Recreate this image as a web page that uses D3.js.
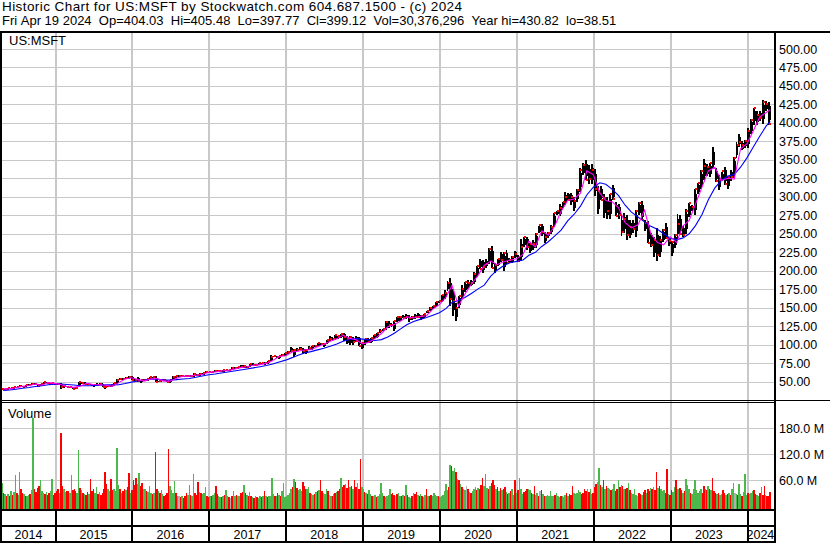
<!DOCTYPE html>
<html><head><meta charset="utf-8">
<script src="https://cdn.jsdelivr.net/npm/d3@7"></script>
<style>
html,body{margin:0;padding:0;background:#fff;}
svg{display:block;}
text{font-family:"Liberation Sans",Arial,sans-serif;fill:#000;}
</style></head><body>
<svg id="c" width="830" height="543"></svg>
<script>
// ---------------- DATA ----------------
const titleText = "Historic Chart for US:MSFT by Stockwatch.com 604.687.1500 - (c) 2024";
const infoText = "Fri Apr 19 2024  Op=404.03  Hi=405.48  Lo=397.77  Cl=399.12  Vol=30,376,296  Year hi=430.82  lo=38.51";
const symbolText = "US:MSFT";
const volumeLabel = "Volume";

// biweekly price periods, first starting 2014-04-21
const priceStart = "2014-04-21";
const priceHigh = [40.7,40.4,41.1,41.5,42.3,42.7,45.7,44.3,45.3,46.0,47.6,47.6,46.9,47.0,49.7,50.0,48.9,48.5,48.0,
47.9,47.9,43.9,44.3,42.9,42.8,42.3,49.5,48.9,48.8,47.8,46.9,45.2,47.9,47.3,47.7,44.9,44.7,44.8,47.5,54.0,54.9,54.7,56.2,56.8,56.8,
53.3,55.6,52.3,52.9,54.0,55.6,55.9,56.8,51.3,52.4,53.0,51.5,52.3,57.0,57.3,58.5,58.2,58.0,58.7,58.4,61.4,60.8,61.4,61.9,64.1,63.4,
63.4,66.0,64.9,65.2,65.2,66.2,66.0,69.1,69.6,70.0,72.9,71.7,71.5,74.3,74.4,73.6,74.9,75.6,75.9,77.9,86.2,84.9,84.0,85.1,87.5,88.4,
90.8,96.1,93.4,95.0,97.2,95.0,94.0,97.9,97.9,98.8,102.7,102.2,101.6,106.8,111.2,109.7,112.8,112.2,114.6,116.2,111.3,112.2,110.2,112.2,110.9,102.4,
107.9,108.3,108.4,113.2,116.0,120.8,121.5,131.4,131.4,129.4,131.9,137.7,138.4,139.5,141.7,139.7,138.6,140.9,142.4,140.4,141.0,145.8,150.3,152.5,157.5,159.0,
167.5,174.1,185.8,190.7,175.0,156.1,166.0,180.0,185.0,187.0,187.7,198.5,206.4,216.4,215.0,216.0,231.2,232.9,209.8,215.9,225.2,225.2,228.1,217.3,219.6,227.2,
220.6,242.6,245.9,246.1,237.9,241.0,251.2,261.0,263.2,251.7,252.9,262.3,278.0,280.7,290.2,292.9,305.8,305.3,305.3,299.8,311.1,338.8,345.1,349.7,343.0,344.3,
338.0,314.6,315.1,303.7,300.0,304.2,316.0,292.6,290.9,274.8,277.7,274.7,269.1,268.6,282.0,292.4,294.2,268.4,267.5,251.6,246.2,257.2,247.2,256.1,263.9,245.4,
239.9,250.0,276.8,274.9,260.1,283.3,292.0,289.3,311.0,319.0,335.9,351.5,344.0,345.3,366.8,338.5,330.0,333.6,340.9,327.5,336.9,354.0,374.4,384.3,375.0,376.4,
392.8,405.6,420.8,415.9,415.9,430.8,430.2,428.7];
const priceLow = [39.0,38.5,39.6,40.3,40.9,41.3,42.0,42.2,43.1,44.9,45.9,45.5,42.1,43.9,46.9,47.3,46.4,45.5,45.5,
45.0,40.2,41.8,42.4,40.8,40.2,40.1,42.0,46.2,46.7,45.9,45.2,43.3,44.5,45.6,43.1,39.7,42.5,42.6,44.5,47.0,52.2,52.8,53.7,53.4,52.1,
50.1,49.9,48.2,50.1,50.6,53.3,54.0,49.4,49.1,49.9,51.4,49.5,48.0,52.3,55.8,57.0,57.0,55.6,56.6,56.3,56.6,57.3,58.0,58.8,61.9,61.9,
61.9,62.5,62.9,63.6,63.6,64.4,64.9,64.9,68.1,67.4,69.6,68.0,68.0,69.7,71.9,71.3,72.0,73.9,72.9,74.3,77.2,82.9,82.2,80.7,84.2,85.0,
87.3,90.1,83.8,91.1,92.5,87.0,87.5,92.0,92.5,96.6,97.5,99.4,97.3,101.0,104.8,104.8,105.8,107.8,109.0,104.5,100.1,99.4,99.9,104.0,98.1,94.0,
100.0,102.0,102.3,107.9,108.8,115.6,118.0,119.6,123.0,123.2,119.0,130.7,131.7,135.7,134.0,130.8,132.8,135.0,136.0,133.2,136.3,142.5,145.8,148.0,150.5,156.5,
157.0,161.2,172.0,152.0,139.0,132.5,150.0,162.3,171.0,175.7,178.9,181.4,191.5,202.0,197.5,203.2,208.9,203.0,196.3,206.0,212.0,199.6,209.1,209.9,210.1,217.0,
211.9,212.6,232.1,227.9,224.3,228.3,231.1,250.6,246.8,238.1,244.8,249.7,258.8,274.9,273.5,283.0,288.6,295.3,289.0,281.3,292.8,306.4,329.1,322.4,317.3,316.9,
301.0,276.1,295.0,271.5,270.0,270.0,296.3,274.0,270.0,246.4,250.8,241.5,243.6,251.0,245.9,274.8,267.9,253.6,236.8,232.7,219.1,213.4,219.0,238.7,243.1,233.9,
219.4,230.9,243.0,248.1,245.6,250.0,272.0,280.5,275.4,303.4,311.0,322.5,327.6,327.0,337.2,319.9,309.5,321.5,316.3,311.2,322.0,326.0,352.0,368.0,362.9,366.5,
366.5,385.2,397.2,397.2,402.4,398.4,415.5,397.8];
const priceClose = [39.7,39.8,40.9,41.2,42.2,42.1,44.5,43.2,45.2,45.9,47.0,46.1,44.0,46.9,49.6,47.8,46.9,48.1,46.0,
47.2,42.4,43.8,42.4,42.9,40.3,41.6,48.7,48.3,46.9,46.6,45.3,44.6,45.9,46.7,43.1,42.6,43.5,44.6,47.5,52.6,53.0,53.9,54.1,55.7,52.3,
52.3,50.2,51.8,52.0,53.5,55.6,55.7,49.9,51.1,52.3,51.5,49.8,52.3,56.6,57.0,57.6,57.7,57.2,57.6,57.4,59.9,58.7,60.5,61.9,63.2,62.8,
62.7,63.7,64.6,64.3,64.9,65.9,64.9,68.5,68.4,69.9,70.3,71.2,69.5,73.8,72.7,72.5,74.8,75.3,74.5,77.5,83.8,84.1,83.3,84.2,85.5,88.2,
90.0,91.8,92.0,93.1,94.6,91.3,93.1,95.8,97.7,98.4,101.6,100.4,101.2,106.3,108.0,107.6,112.3,111.0,114.4,109.6,106.9,109.6,103.1,104.8,98.2,101.9,
107.7,102.8,108.2,112.5,115.9,117.9,121.0,129.9,127.1,126.2,131.4,137.0,137.1,136.6,136.9,136.1,137.9,137.3,137.7,138.2,140.7,145.9,149.6,151.8,157.4,158.6,
167.1,170.2,183.7,162.0,158.8,149.7,165.1,174.6,184.7,183.5,182.9,195.2,206.3,202.9,205.0,208.9,228.9,204.0,207.8,215.8,214.9,223.3,210.4,214.4,218.6,222.4,
212.7,232.0,245.0,232.4,235.8,236.5,249.9,261.2,252.5,245.2,250.8,259.4,277.7,280.8,284.9,292.9,299.7,295.7,299.4,294.9,309.2,336.1,343.1,323.0,323.8,336.3,
310.2,308.3,295.0,297.7,280.1,303.7,297.0,274.0,274.7,252.6,270.0,247.7,259.6,256.7,280.7,291.9,268.1,264.5,237.9,234.2,242.1,221.4,241.2,255.0,244.7,239.8,
239.2,248.2,263.1,249.2,248.6,280.6,291.6,285.8,310.7,318.3,335.4,342.3,340.5,345.2,338.4,321.0,323.0,334.3,317.0,327.3,326.7,352.8,369.9,374.5,370.7,376.0,
388.5,403.9,420.6,410.3,406.2,428.7,425.5,399.1];

// moving averages at month ends (Apr 2014 .. Mar 2024) plus last day 2024-04-19
const maFirstMonth = "2014-04-01";
const maLastDay = "2024-04-19";
const maShort = [40.0,40.0,41.5,43.5,44.5,46.5,45.0,48.5,47.5,
45.5,42.8,42.0,43.5,47.5,46.0,45.5,45.0,43.5,48.5,53.5,55.0,
52.5,50.5,53.5,54.0,50.5,50.5,54.5,57.5,57.3,58.5,59.5,62.5,
63.0,64.2,64.8,66.5,68.8,70.0,72.0,72.8,74.5,78.5,83.8,84.8,
90.0,91.0,93.0,93.0,97.0,100.5,104.5,108.0,112.5,108.5,106.5,101.0,
103.0,108.0,115.0,124.0,127.0,132.0,137.5,136.0,138.0,139.0,148.0,154.0,
164.0,180.0,152.0,168.0,182.0,193.0,207.0,213.0,208.0,212.0,214.0,216.0,
222.0,240.0,232.0,254.0,248.0,260.0,280.0,295.0,297.0,305.0,335.0,330.0,
305.0,295.0,293.0,285.0,265.0,258.0,262.0,282.0,250.0,238.0,235.0,246.0,
238.0,260.0,268.0,290.0,313.0,335.0,340.0,322.0,325.0,324.0,365.0,372.0,
390.0,408.0,414.0,418.0];
const maLong = [38.0,38.5,39.5,40.8,41.9,43.2,44.2,45.6,46.4,
46.6,45.9,45.3,44.3,44.3,44.4,44.9,45.5,45.5,45.7,47.2,49.1,
50.6,52.0,53.0,53.1,52.2,51.8,52.6,53.4,54.1,55.7,57.5,59.1,
60.2,61.5,62.8,64.2,65.5,66.9,68.4,70.0,71.6,73.6,76.3,78.9,
82.3,85.6,88.5,90.4,92.8,94.9,97.6,100.6,104.5,106.8,108.0,107.3,
106.3,105.4,106.7,110.2,115.4,121.2,127.1,131.3,134.1,136.5,139.7,143.0,
148.6,157.0,159.6,163.6,169.2,175.0,180.4,192.6,200.6,206.6,210.8,212.6,
214.4,220.8,224.8,232.8,239.2,246.8,254.8,267.4,276.0,287.4,302.4,313.0,
319.0,317.0,310.0,301.6,288.6,279.2,272.6,266.0,260.0,256.0,250.0,244.0,
242.0,244.0,250.0,261.0,276.0,296.0,312.0,322.0,328.0,330.0,340.0,353.0,
368.0,382.0,396.0,402.0];

// weekly peak daily volume (millions), weeks starting 2014-04-21
const volStart = "2014-04-21";
const volume = [53,30,28,24,27,22,35,25,31,72, 30,26,79,38,30,27,24,22,25,28, 36,203,40,33,42,45,60,35,30,28,
33,26,30,34,62,25,30,35,40,30, 168,45,38,32,35,34,30,71,36,38, 35,30,130,42,36,30,28,26,32,28,
62,34,38,30,44,28,32,26,30,40, 79,50,38,34,62,36,40,34,134,48, 38,30,34,40,36,44,77,30,36,60,
48,65,50,77,45,52,40,38,34,32, 46,30,28,30,124,40,35,30,36,28, 24,26,30,131,45,36,30,58,30,24,
22,20,22,19,24,30,26,48,25,22, 74,30,26,55,32,30,28,30,44,22, 20,22,24,26,30,47,28,22,20,21,
24,26,36,22,20,18,22,34,24,26, 22,24,30,32,48,30,26,24,32,24, 20,18,22,20,18,22,20,24,34,22,
20,24,22,64,28,24,22,30,26,24, 34,53,20,24,26,30,40,44,62,55, 42,36,38,34,55,45,40,38,44,30,
28,26,28,32,34,36,60,34,30,28, 40,34,26,22,24,28,30,32,34,38, 64,44,48,50,42,60,44,46,40,60,
44,52,40,108,44,40,32,30,28,36, 28,24,22,26,20,24,28,53,30,24, 20,22,26,40,28,30,26,24,28,30,
24,22,26,22,48,26,20,18,24,30, 28,32,26,24,28,22,20,26,38,24, 22,26,24,30,26,22,24,20,22,26,
34,50,36,44,95,92,80,88,78,62, 60,50,44,40,36,46,38,32,30,34, 38,44,36,42,40,48,65,46,74,42,
38,46,52,60,48,40,44,34,42,36, 38,44,32,28,30,34,40,26,60,30, 36,64,40,28,32,34,38,40,36,30,
28,47,26,30,24,34,36,28,24,22, 26,22,34,24,22,26,30,22,20,24, 22,20,26,30,24,28,26,45,30,28,
30,36,32,28,30,40,34,38,32,40, 28,30,44,50,56,87,48,44,60,40, 46,42,38,36,40,50,34,38,60,44,
48,46,40,38,42,53,36,30,28,40, 26,24,30,28,26,32,36,30,40,34, 42,38,44,36,79,42,46,40,34,36,
30,86,28,26,36,32,44,60,40,38, 42,36,30,34,62,48,40,30,28,40, 60,36,30,34,38,30,47,40,36,46,
40,36,64,34,30,28,30,26,28,36, 30,26,28,30,26,38,52,30,28,26, 50,28,24,32,74,26,30,28,30,34,
36,28,26,24,30,44,26,47,26,22, 24,32];
// g = up day, r = down day, n = unchanged
const volumeDir = "grgrgrgrgg rggrrgrggr ggrrrrgggr grrggrrrrg rrggrrggrr rggrgrgrrg rrrggrgrrr rrggrrgggg rgrrgrrgrr rrggrrggrg " +
"ggrgrrgrgg rrrrggggrg nrgrrrggrg grrrgrgggr rgrggrrggr grggrnrggr ggrrgrgrgr grgrggrgrg rggggrgrgr gggggggrgr " +
"rgggrrrggr ggrgrgrrgg grngrgrgrr grrgrrgrgr rgrrggrgrg grggrggggr ggggrrrnrg grgrgrggrg rrgrgrggrg rrggggrggg " +
"gggrgrggrg rgrggnrgrg ggrgrrrggg rgrrrgrgrg rrgrgrggrg rgggrrrggr grggrnrgrg gggggrgggr gggrgrrrgg gggrrrrgrg " +
"grrrggrgrg rggrggrrgr grgrrgrggg gnrrgrrgrr grgrrgrggg rrgrrggrgg rrgrgggrgg gggggrrgrg rgrrrgrggr rgrgrggngr " +
"ggrgggrggg rrggrgrrgr rr";

const priceTicks = [50,75,100,125,150,175,200,225,250,275,300,325,350,375,400,425,450,475,500];
const volumeTicks = [60,120,180];
const years = [2014,2015,2016,2017,2018,2019,2020,2021,2022,2023,2024];

// ---------------- DRAW ----------------
const parse = d3.timeParse("%Y-%m-%d");
const W = 830, H = 543;
const P = {l:2, r:773.5, top:33, pBot:400, vTop:403, vBot:509};
const svg = d3.select("#c");
svg.append("rect").attr("width", W).attr("height", H).attr("fill", "#fff");

const x = d3.scaleTime().domain([new Date(2015,0,1), new Date(2024,0,1)]).range([55, 747.3]);
const yP = d3.scaleLinear().domain([50,500]).range([381.5,49]);
const yV = d3.scaleLinear().domain([0,180]).range([505.85,428.3]);

const defs = svg.append("defs");
defs.append("clipPath").attr("id","cp").append("rect").attr("x",P.l).attr("y",P.top).attr("width",P.r-P.l).attr("height",P.pBot-P.top);
defs.append("clipPath").attr("id","cv").append("rect").attr("x",P.l).attr("y",P.vTop).attr("width",P.r-P.l).attr("height",P.vBot-P.vTop);

const yearDates = years.slice(1).map(y => new Date(y,0,1));

// horizontal gridlines (price)
svg.append("g").attr("transform",`translate(${P.l},0)`)
  .call(d3.axisRight(yP).tickValues(priceTicks).tickSize(P.r-P.l).tickFormat(""))
  .call(g => g.select(".domain").remove())
  .selectAll("line").attr("stroke","#c8c8c8").attr("shape-rendering","crispEdges");
// horizontal gridlines (volume)
svg.append("g").attr("transform",`translate(${P.l},0)`)
  .call(d3.axisRight(yV).tickValues(volumeTicks).tickSize(P.r-P.l).tickFormat(""))
  .call(g => g.select(".domain").remove())
  .selectAll("line").attr("stroke","#c8c8c8").attr("shape-rendering","crispEdges");
// vertical gridlines
svg.append("g").attr("transform",`translate(0,${P.top})`)
  .call(d3.axisBottom(x).tickValues(yearDates).tickSize(P.vBot-P.top).tickFormat(""))
  .call(g => g.select(".domain").remove())
  .selectAll("line").attr("stroke","#c8c8c8").attr("stroke-width",2).attr("shape-rendering","crispEdges");

// volume bars
const v0 = parse(volStart);
const dirs = volumeDir.replace(/\s/g,"");
const volColor = {g:"#4cb84c", r:"#ff0000", n:"#b0b0b0"};
const volData = volume.map((v,i) => ({d0:d3.timeDay.offset(v0,7*i), d1:d3.timeDay.offset(v0,7*(i+1)), v, c: dirs[i]||"g"}));
svg.append("g").attr("clip-path","url(#cv)").selectAll("rect").data(volData).join("rect")
  .attr("x", d => Math.round(x(d.d0)))
  .attr("width", d => Math.max(1, Math.round(x(d.d1)) - Math.round(x(d.d0))))
  .attr("y", d => yV(d.v))
  .attr("height", d => P.vBot - yV(d.v))
  .attr("fill", d => volColor[d.c])
  .attr("shape-rendering","crispEdges");

// price bars (high-low, with close tick)
const p0 = parse(priceStart);
const pData = priceHigh.map((h,i) => ({d0:d3.timeDay.offset(p0,14*i), d1:d3.timeDay.offset(p0,14*(i+1)), h, l:priceLow[i], c:priceClose[i]}));
const gp = svg.append("g").attr("clip-path","url(#cp)");
const bx = d => Math.round(x(d.d0));
const bw = d => Math.max(2, Math.round(x(d.d1)) - bx(d));
gp.append("g").selectAll("rect").data(pData).join("rect")
  .attr("x", bx).attr("width", d => bw(d) - 1)
  .attr("y", d => yP(d.h))
  .attr("height", d => Math.max(1.5, yP(d.l) - yP(d.h)))
  .attr("fill","#000").attr("shape-rendering","crispEdges");
gp.append("g").selectAll("rect").data(pData).join("rect")
  .attr("x", d => bx(d) + bw(d) - 1).attr("width", 1)
  .attr("y", d => yP(d.h - 0.2*(d.h - d.l)))
  .attr("height", d => Math.max(1, yP(d.l + 0.2*(d.h - d.l)) - yP(d.h - 0.2*(d.h - d.l))))
  .attr("fill","#000").attr("shape-rendering","crispEdges");
gp.append("g").selectAll("rect").data(pData).join("rect")
  .attr("x", d => bx(d) + 1)
  .attr("width", 2)
  .attr("y", d => yP(d.c) - 1)
  .attr("height", 2)
  .attr("fill","#ff0000").attr("shape-rendering","crispEdges");

// moving averages
const m0 = parse(maFirstMonth);
const maDates = maShort.map((v,i) => i < maShort.length-1 ? d3.timeDay.offset(d3.timeMonth.offset(m0, i+1), -1) : parse(maLastDay));
const line = d3.line().x((d,i) => x(maDates[i])).y(d => yP(d));
gp.append("path").datum(maLong).attr("d", line).attr("fill","none").attr("stroke","#0000ff").attr("stroke-width",1.1);
gp.append("path").datum(maShort).attr("d", line).attr("fill","none").attr("stroke","#ff00ff").attr("stroke-width",1.1);

// frame lines
const frame = svg.append("g").attr("stroke","#000").attr("shape-rendering","crispEdges");
const hl = (x1,x2,y,w) => frame.append("line").attr("x1",x1).attr("x2",x2).attr("y1",y).attr("y2",y).attr("stroke-width",w);
const vl = (xx,y1,y2,w) => frame.append("line").attr("x1",xx).attr("x2",xx).attr("y1",y1).attr("y2",y2).attr("stroke-width",w);
hl(0, W, 32, 2);
hl(0, W, 400.5, 1);
hl(0, 775, 402.5, 1);
hl(0, 775, 510, 2);
hl(0, 775, 526, 2);
hl(0, 775, 542, 2);
vl(1, 31, H, 2);
vl(774.5, 31, H, 2);

// year separators in bottom rows
svg.append("g").attr("transform",`translate(0,${P.vBot})`)
  .call(d3.axisBottom(x).tickValues(yearDates).tickSize(H-P.vBot).tickFormat(""))
  .call(g => g.select(".domain").remove())
  .selectAll("line").attr("stroke","#000").attr("stroke-width",2).attr("shape-rendering","crispEdges");

// year labels
svg.append("g").selectAll("text").data(years).join("text")
  .attr("x", y => (Math.max(P.l, x(new Date(y,0,1))) + Math.min(P.r, x(new Date(y+1,0,1))))/2)
  .attr("y", 538.5)
  .attr("text-anchor","middle")
  .attr("font-size","12.5px")
  .text(y => y);

// price axis
svg.append("g").attr("transform","translate(775,0)")
  .call(d3.axisRight(yP).tickValues(priceTicks).tickFormat(d3.format(".2f")).tickSize(0).tickPadding(4))
  .call(g => g.select(".domain").remove())
  .attr("font-family",null).attr("font-size",null)
  .selectAll("text").attr("font-size","12.5px").attr("fill","#000");
// volume axis
svg.append("g").attr("transform","translate(775,0)")
  .call(d3.axisRight(yV).tickValues(volumeTicks).tickFormat(d => d.toFixed(1) + " M").tickSize(0).tickPadding(4))
  .call(g => g.select(".domain").remove())
  .attr("font-family",null).attr("font-size",null)
  .selectAll("text").attr("font-size","12.5px").attr("fill","#000");

// header & labels (double spaces kept as non-breaking spaces)
const nb = s => s.replace(/ /g, "\u00A0");
svg.append("text").attr("x",2).attr("y",11).attr("font-size","13.5px").attr("letter-spacing","0.42px").text(titleText);
svg.append("text").attr("x",2).attr("y",25).attr("font-size","13px").text(nb(infoText));
svg.append("text").attr("x",9).attr("y",44.5).attr("font-size","13px").text(symbolText);
svg.append("text").attr("x",8).attr("y",417.5).attr("font-size","13px").text(volumeLabel);
</script>
</body></html>
